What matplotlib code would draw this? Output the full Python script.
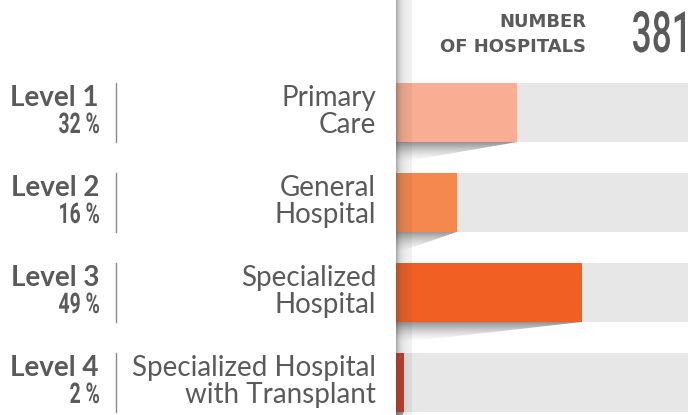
import matplotlib
matplotlib.use('Agg')
import matplotlib.pyplot as plt
import numpy as np
from matplotlib.transforms import blended_transform_factory, Affine2D
from matplotlib.patches import Polygon, PathPatch
from matplotlib.lines import Line2D
from matplotlib.textpath import TextPath
from matplotlib.font_manager import FontProperties

# data
levels = ['Level 1', 'Level 2', 'Level 3', 'Level 4']
shares = [32, 16, 49, 2]
categories = ['Primary\nCare', 'General\nHospital', 'Specialized\nHospital',
              'Specialized Hospital\nwith Transplant']
total_hospitals = 381
bar_colors = ['#F9AE93', '#F4884E', '#F15F22', '#D0391E']

W, H = 688, 415
fig = plt.figure(figsize=(W / 100, H / 100), dpi=100)
fig.patch.set_facecolor('white')

txt = '#5a5a5a'
x0 = 396  # left edge of the bars (px)


def narrow_text(s, x_right, y_base, size, sx, weight='bold'):
    '''draw condensed text, right aligned, position in px from top-left'''
    fp = FontProperties(family='Roboto', weight=weight)
    path = TextPath((0, 0), s, size=size, prop=fp)
    ext = path.get_extents()
    k = 100 / 72.0  # points -> px at dpi 100
    tr = Affine2D().translate(-ext.x1, 0).scale(sx * k, k) \
        .translate(x_right, H - y_base).scale(1 / 100.0) + fig.dpi_scale_trans
    fig.add_artist(PathPatch(path, transform=tr, facecolor=txt, edgecolor='none'))


ax = fig.add_axes([x0 / W, 0, (W - x0) / W, 1])
ax.set_xlim(0, 77)
# one category per 90 px, first bar centred 112.5 px from the top
ax.set_ylim((H - 112.5) / 90, -112.5 / 90)
ax.axis('off')

ypos = np.arange(len(shares))
bh = 59 / 90
ax.barh(ypos, [77] * len(shares), height=bh, color='#E7E7E7', zorder=1)
ax.barh(ypos, shares, height=bh, color=bar_colors, zorder=2)

# shadow wedge under each bar
sh = 21 / 90
grad = np.zeros((50, 2, 4))
grad[..., :3] = 0.25
grad[..., 3] = np.linspace(0.7, 0.0, 50)[:, None] ** 1.6
for y, v in zip(ypos, shares):
    top = y + bh / 2
    tri = Polygon([[0, top], [v, top], [0, top + sh]], closed=True,
                  transform=ax.transData, facecolor='none', edgecolor='none')
    ax.add_patch(tri)
    im = ax.imshow(grad, extent=[0, v, top + sh, top], aspect='auto',
                   zorder=3, interpolation='bilinear')
    im.set_clip_path(tri)

# fold shadow along the left edge
px = np.arange(16)
strip = np.zeros((2, 16, 4))
strip[..., :3] = 0.3
strip[..., 3] = (0.4 * np.exp(-px / 4.0) + 0.07)[None, :]
ylo, yhi = ax.get_ylim()
ax.imshow(strip, extent=[0, 16 * 77 / (W - x0), ylo, yhi], aspect='auto',
          zorder=4, interpolation='bilinear')
ax.set_xlim(0, 77)
ax.set_ylim(ylo, yhi)

# left labels
tr = blended_transform_factory(fig.transFigure, ax.transData)
for y, lev, s, cat in zip(ypos, levels, shares, categories):
    cy = 112.5 + 90 * y
    fig.text(99 / W, y - 0.072, lev, transform=tr, ha='right', va='baseline',
             fontsize=20, fontweight='bold', family='Lato', color=txt)
    narrow_text('%d %%' % s, 99, cy + 20.5, 20.5, 0.68)
    fig.text(376 / W, y - 0.01, cat, transform=tr, ha='right', va='center',
             fontsize=20, family='Lato', color=txt, linespacing=1.08)
    fig.add_artist(Line2D([116 / W, 116 / W], [y - bh / 2, y + bh / 2],
                          transform=tr, color='#8a8a8a', lw=1))

# header
fig.text(586 / W, 1 - 27 / H, 'NUMBER', ha='right', va='baseline',
         fontsize=13, fontweight='bold', family='DejaVu Sans', color=txt)
fig.text(586 / W, 1 - 52 / H, 'OF HOSPITALS', ha='right', va='baseline',
         fontsize=13, fontweight='bold', family='DejaVu Sans', color=txt)
narrow_text(str(total_hospitals), 685, 52, 41, 0.62, weight='medium')

fig.savefig('out.png', dpi=100, facecolor='white')
